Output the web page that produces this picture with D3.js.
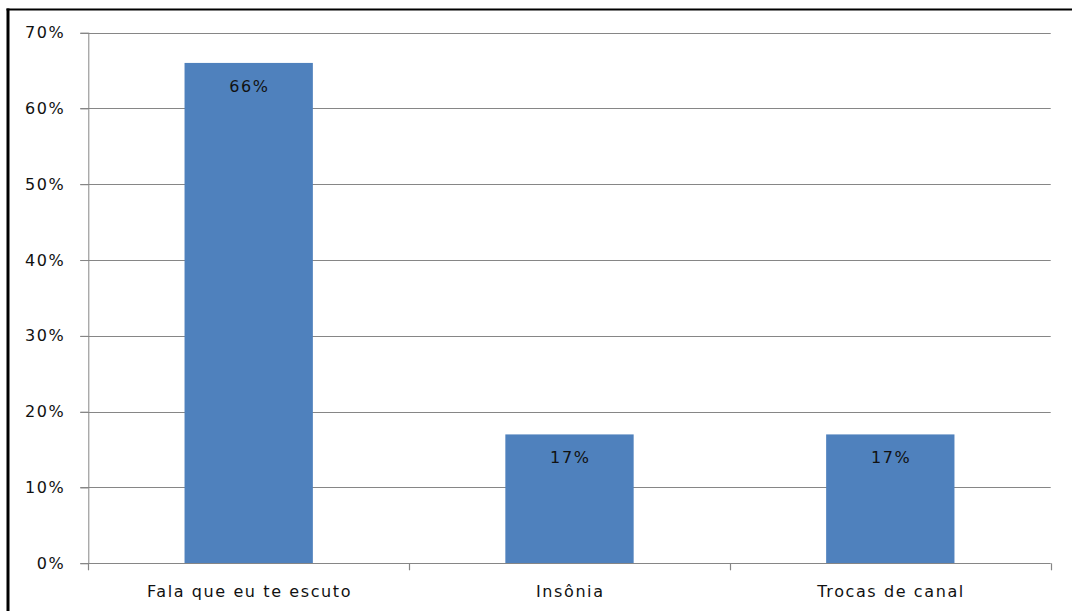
<!DOCTYPE html>
<html>
<head>
<meta charset="utf-8">
<script src="https://cdn.jsdelivr.net/npm/d3@7"></script>
<style>
  html, body { margin: 0; padding: 0; background: #fff; }
  svg { display: block; }
  text { font-family: "DejaVu Sans", Verdana, sans-serif; fill: #111; letter-spacing: 1.6px; }
</style>
</head>
<body>
<svg id="chart" width="1072" height="611"></svg>
<script>
// Share of responses per category
const categories = ["Fala que eu te escuto", "Insônia", "Trocas de canal"];
const values = [0.66, 0.17, 0.17];
const yTicks = [0, 0.1, 0.2, 0.3, 0.4, 0.5, 0.6, 0.7];

const svg = d3.select("#chart");
const W = 1072, H = 611;
const plot = { left: 88.3, right: 1050.7, top: 32.6, bottom: 563.3 };
const pct = d3.format(".0%");

// Outer frame: thick left edge and thin top edge
svg.append("line").attr("x1", 8).attr("x2", 8).attr("y1", 8.5).attr("y2", H)
  .attr("stroke", "#000").attr("stroke-width", 3);
svg.append("line").attr("x1", 6.5).attr("x2", W).attr("y1", 9.5).attr("y2", 9.5)
  .attr("stroke", "#000").attr("stroke-width", 2);

const x = d3.scaleBand()
  .domain(categories)
  .range([plot.left, plot.right])
  .paddingInner(0.6)
  .paddingOuter(0.3);

const y = d3.scaleLinear().domain([0, 0.7]).range([plot.bottom, plot.top]);

// Horizontal gridlines with short ticks on the left
const grid = svg.append("g");
grid.selectAll("line.grid").data(yTicks.filter(d => d > 0)).join("line")
  .attr("class", "grid")
  .attr("x1", plot.left - 8).attr("x2", plot.right)
  .attr("y1", d => Math.round(y(d)) + 0.5).attr("y2", d => Math.round(y(d)) + 0.5)
  .attr("stroke", "#868686").attr("stroke-width", 1.2);

// Bars
svg.append("g").selectAll("rect").data(values).join("rect")
  .attr("x", (d, i) => x(categories[i]))
  .attr("width", x.bandwidth())
  .attr("y", d => y(d))
  .attr("height", d => y(0) - y(d))
  .attr("fill", "#4f81bd");

// Y axis
const yAxis = d3.axisLeft(y).tickValues(yTicks).tickSize(8).tickPadding(15)
  .tickFormat(pct);
const gy = svg.append("g").attr("transform", `translate(${plot.left},0)`).call(yAxis);
gy.select(".domain").attr("stroke", "#868686").attr("d", `M0.5,${plot.top}V${plot.bottom}`);
gy.selectAll(".tick line").attr("stroke", "#868686");
gy.selectAll(".tick text").attr("font-size", 16).attr("fill", "#111")
  .attr("font-family", "DejaVu Sans, Verdana, sans-serif");

// X axis: baseline with ticks at category boundaries
const boundaries = d3.range(categories.length + 1).map(i => plot.left + i * x.step());
const gx = svg.append("g");
gx.append("line").attr("x1", plot.left - 8).attr("x2", plot.right)
  .attr("y1", Math.round(plot.bottom) + 0.5).attr("y2", Math.round(plot.bottom) + 0.5)
  .attr("stroke", "#868686").attr("stroke-width", 1.2);
gx.selectAll("line.tk").data(boundaries).join("line")
  .attr("class", "tk")
  .attr("x1", d => Math.round(d) + 0.5).attr("x2", d => Math.round(d) + 0.5)
  .attr("y1", plot.bottom).attr("y2", plot.bottom + 7)
  .attr("stroke", "#868686").attr("stroke-width", 1.2);
gx.selectAll("text").data(categories).join("text")
  .attr("x", d => x(d) + x.bandwidth() / 2 + 0.8)
  .attr("y", 597)
  .attr("text-anchor", "middle")
  .attr("font-size", 16)
  .text(d => d);

// Value labels inside the bars
svg.append("g").selectAll("text").data(values).join("text")
  .attr("x", (d, i) => x(categories[i]) + x.bandwidth() / 2 + 0.8)
  .attr("y", d => y(d) + 29)
  .attr("text-anchor", "middle")
  .attr("font-size", 16)
  .text(d => pct(d));
</script>
</body>
</html>
